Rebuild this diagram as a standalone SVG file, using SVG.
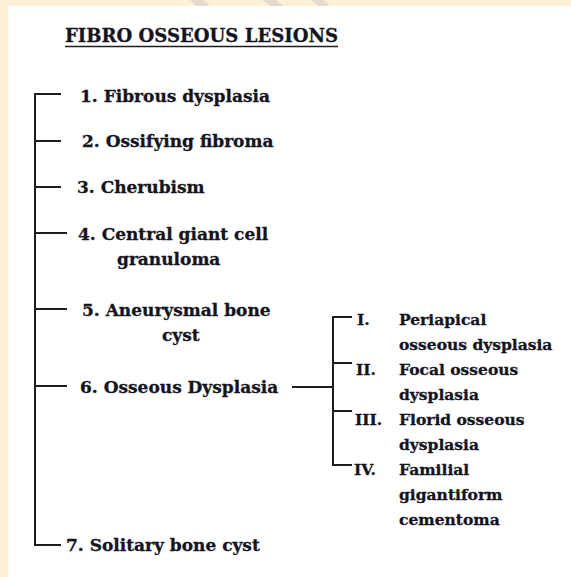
<svg xmlns="http://www.w3.org/2000/svg" width="571" height="577" viewBox="0 0 571 577">
<style>
.t{font-family:"DejaVu Serif","Liberation Serif",serif;font-weight:bold;fill:#141420;stroke:#141420;stroke-width:0.3}
.m{font-size:17px}
.s{font-size:15.5px}
.ttl{font-size:18.5px}
.ln{stroke:#1e1e1e;stroke-width:2;fill:none}
</style>
<rect width="571" height="577" fill="#fdf0d6"/>
<g fill="#e3dccd">
<polygon points="190,0 203,0 210,6 197,6"/>
<polygon points="262,0 276,0 284,6 270,6"/>
<polygon points="311,0 323,0 330,6 318,6"/>
</g>
<rect x="8.5" y="6" width="563" height="571" fill="#ffffff"/>
<g id="title">
<text class="t ttl" x="65" y="42" textLength="273" lengthAdjust="spacingAndGlyphs">FIBRO OSSEOUS  LESIONS</text>
<line x1="65" y1="46.5" x2="338" y2="46.5" stroke="#1e1e1e" stroke-width="1.5"/>
</g>
<g id="connectors" class="ln">
<path d="M61,94 H35 V545 H61"/>
<path d="M35,141 H61 M35,187 H61 M35,233 H67 M35,309 H67 M35,386 H67"/>
<path d="M292,387 H333"/>
<path d="M352,317 H333 V465 H352"/>
<path d="M333,363 H352 M333,411 H352"/>
</g>
<g id="n1"><text class="t m" x="80" y="102">1. Fibrous dysplasia</text></g>
<g id="n2"><text class="t m" x="82" y="147">2. Ossifying fibroma</text></g>
<g id="n3"><text class="t m" x="77" y="193">3. Cherubism</text></g>
<g id="n4"><text class="t m" x="78" y="240">4. Central giant cell</text><text class="t m" x="117" y="265">granuloma</text></g>
<g id="n5"><text class="t m" x="82" y="316">5. Aneurysmal bone</text><text class="t m" x="162" y="341">cyst</text></g>
<g id="n6"><text class="t m" x="80" y="393">6. Osseous Dysplasia</text></g>
<g id="n7"><text class="t m" x="66" y="551">7. Solitary bone cyst</text></g>
<g id="s1"><text class="t s" x="357" y="325">I.</text><text class="t s" x="399" y="325">Periapical</text><text class="t s" x="399" y="350">osseous dysplasia</text></g>
<g id="s2"><text class="t s" x="356" y="375">II.</text><text class="t s" x="399" y="375">Focal osseous</text><text class="t s" x="399" y="400">dysplasia</text></g>
<g id="s3"><text class="t s" x="355" y="425">III.</text><text class="t s" x="399" y="425">Florid osseous</text><text class="t s" x="399" y="450">dysplasia</text></g>
<g id="s4"><text class="t s" x="354" y="475">IV.</text><text class="t s" x="399" y="475">Familial</text><text class="t s" x="399" y="500">gigantiform</text><text class="t s" x="399" y="525">cementoma</text></g>
</svg>
